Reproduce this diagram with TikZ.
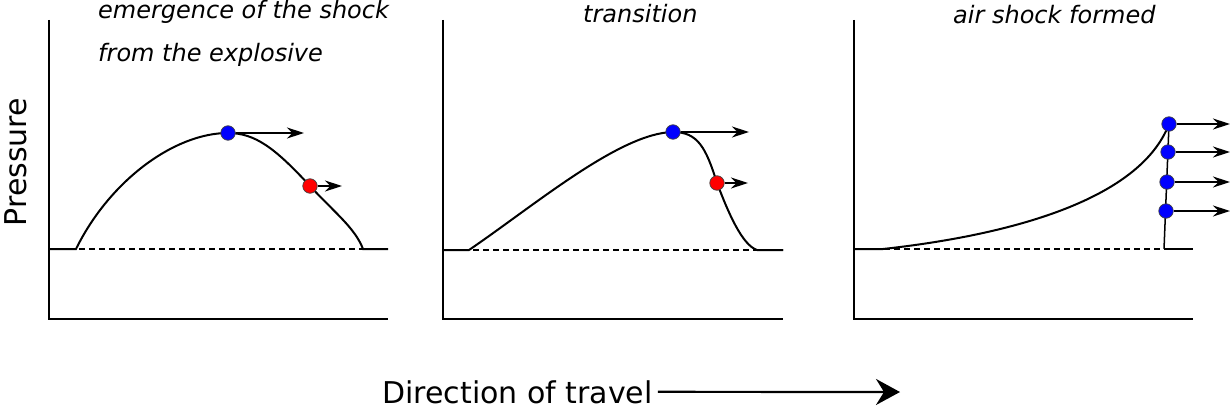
\documentclass[tikz,border=0pt]{standalone}
\usepackage{fontspec}
\setmainfont{DejaVu Sans}
\newfontfamily\obliq{DejaVu Sans Oblique}
\usetikzlibrary{arrows.meta}
\begin{document}
\begin{tikzpicture}[x=1pt,y=-1pt,
  axis/.style={line width=2pt},
  curve/.style={line width=2pt},
  base/.style={line width=1.5pt, dash pattern=on 6pt off 4pt},
  dotb/.style={circle, fill=blue, draw=black!75, line width=0.7pt, minimum size=14.5pt, inner sep=0pt},
  dotr/.style={circle, fill=red, draw=black!75, line width=0.7pt, minimum size=14.5pt, inner sep=0pt},
  vel/.style={-{Stealth[length=17pt,width=11pt,inset=5.5pt]}, line width=1.3pt},
  title/.style={font=\obliq\fontsize{24}{24}\selectfont, anchor=base west, inner sep=0pt},
  big/.style={font=\fontsize{30}{30}\selectfont, inner sep=0pt},
]
\useasboundingbox (0,0) rectangle (1230,412);

% ---------- panel 1 ----------
\draw[axis] (49,20) -- (49,319) -- (388,319);
\draw[base] (49,249) -- (388,249);
\draw[curve] (49,249) -- (76,249)
  .. controls (110,180) and (175,133) .. (228,133)
  .. controls (255,133) and (275,148) .. (310,186)
  .. controls (335,213) and (355,228) .. (363,249) -- (388,249);
\node[dotb] (b1) at (228,133) {};
\node[dotr] (r1) at (310,186) {};
\coordinate (b1e) at (304,133);
\coordinate (r1e) at (342,186);
\draw[vel] (b1) -- (b1e);
\draw[vel] (r1) -- (r1e);
\node[title] (t1a) at (98,19) {emergence of the shock};
\node[title] (t1b) at (98,62) {from the explosive};

% ---------- panel 2 ----------
\draw[axis] (443,20) -- (443,319) -- (783,319);
\draw[base] (443,250) -- (783,250);
\draw[curve] (443,250) -- (469,250)
  .. controls (535,205) and (620,133) .. (673,132)
  .. controls (698,132) and (706,148) .. (717,183)
  .. controls (728,212) and (742,245) .. (757,250) -- (783,250);
\node[dotb] (b2) at (673,132) {};
\node[dotr] (r2) at (717,183) {};
\coordinate (b2e) at (749,132);
\coordinate (r2e) at (748,183);
\draw[vel] (b2) -- (b2e);
\draw[vel] (r2) -- (r2e);
\node[title] (t2) at (583,23) {transition};

% ---------- panel 3 ----------
\draw[axis] (854,20) -- (854,319) -- (1193,319);
\draw[base] (854,249) -- (1164,249);
\draw[curve] (854,249) -- (883,249)
  .. controls (1010,235) and (1140,200) .. (1169,124);
\draw[curve] (1164,249) -- (1193,249);
\coordinate (foot) at (1164,249);
\draw[line width=1.5pt] (1169,124) -- (foot);
\node[dotb] (s1) at (1169,124) {};
\node[dotb] (s2) at (1168,152) {};
\node[dotb] (s3) at (1167,182) {};
\node[dotb] (s4) at (1166,211) {};
\coordinate (s1e) at (1230,124);
\coordinate (s2e) at (1230,152);
\coordinate (s3e) at (1230,182);
\coordinate (s4e) at (1230,211);
\draw[vel] (s1) -- (s1e);
\draw[vel] (s2) -- (s2e);
\draw[vel] (s3) -- (s3e);
\draw[vel] (s4) -- (s4e);
\node[title] (t3) at (953,24) {air shock formed};

% ---------- labels ----------
\node[big, rotate=90, anchor=base] (pr) at (27,162) {Pressure};
\node[big, anchor=base west] (dir) at (382,403) {Direction of travel};
\coordinate (dirend) at (900,392);
\draw[line width=2.2pt, -{Stealth[length=24pt,width=26pt,inset=8pt]}] ([xshift=5pt]dir.east) -- (dirend);
\end{tikzpicture}
\end{document}
